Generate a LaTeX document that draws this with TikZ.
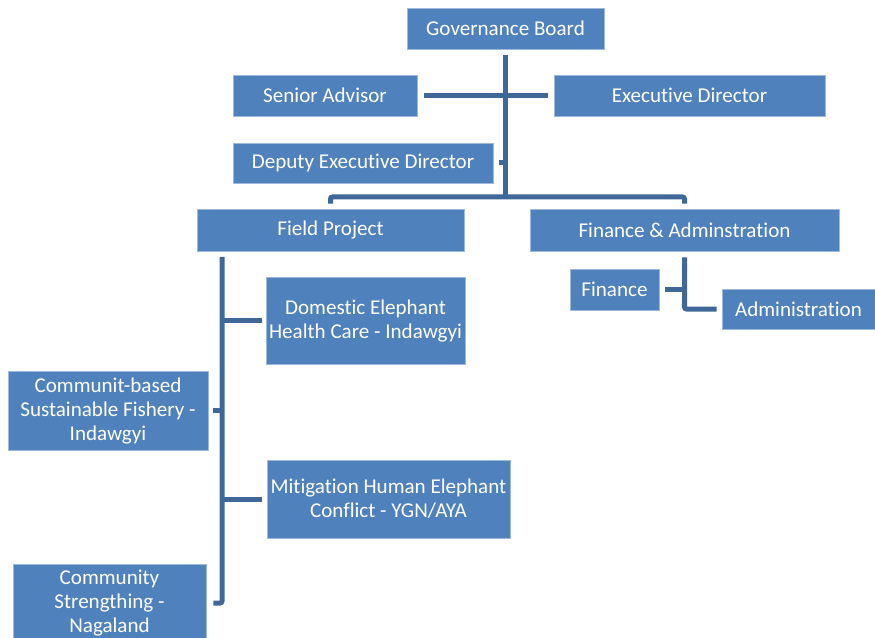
\documentclass[tikz,border=0pt]{standalone}
\usepackage{fontspec}
\setmainfont[Ligatures=NoCommon]{Carlito}
\usetikzlibrary{positioning,calc}
\definecolor{boxblue}{HTML}{4F81BD}
\definecolor{linkblue}{HTML}{3F6797}
\begin{document}
\begin{tikzpicture}[
  x=0.75pt, y=-0.75pt,
  unit/.style={rectangle, inner sep=0pt, align=center, fill=boxblue, draw=boxblue!55!white, line width=0.4pt, text=white, font=\fontsize{15.8}{18}\selectfont},
  link/.style={draw=linkblue, line width=3.75pt, rounded corners=1.5pt}
]
\useasboundingbox (0,0) rectangle (875,638);

\node[unit, minimum width=147.75pt, minimum height=30.75pt] (gov) at (505.5,28.5) {Governance Board};
\node[unit, minimum width=138pt, minimum height=30.75pt] (adv) at (325,95.5) {Senior Advisor};
\node[unit, minimum width=203.25pt, minimum height=30.75pt] (exd) at (689.5,95.5) {Executive Director};
\node[unit, minimum width=195pt, minimum height=30pt] (dep) at (363,163) {Deputy Executive Director};
\node[unit, minimum width=200.25pt, minimum height=31.5pt] (fp) at (330.5,230) {Field Project};
\node[unit, minimum width=231.75pt, minimum height=31.5pt] (fa) at (684.5,230) {Finance \& Adminstration};
\node[unit, minimum width=66.75pt, minimum height=30.75pt] (fin) at (614.5,289.5) {Finance};
\node[unit, minimum width=114.75pt, minimum height=30pt] (adm) at (798.5,309) {Administration};
\node[unit, minimum width=149.25pt, minimum height=65.25pt] (dom) at (365.5,320.5) {Domestic Elephant\\Health Care - Indawgyi};
\node[unit, minimum width=150pt, minimum height=59.25pt] (fish) at (108,410.5) {Communit-based\\Sustainable Fishery -\\Indawgyi};
\node[unit, minimum width=182.25pt, minimum height=58.5pt] (mit) at (388.5,499) {Mitigation Human Elephant\\Conflict - YGN/AYA};
\node[unit, minimum width=144.75pt, minimum height=58.5pt] (cs) at (109.5,603) {Community\\Strengthing -\\Nagaland};

\coordinate (hub) at (506,197);
\coordinate (spine) at (222,257);

% board and directors
\draw[link] ([yshift=-4.5pt]gov.south) -- (gov.south |- hub);
\draw[link] ([xshift=5.25pt]adv.east) -- ([xshift=-4.5pt]exd.west);
\draw[link] ([xshift=4.5pt]dep.east) -- (dep.east -| hub);
\draw[link] ([yshift=3.75pt]fp.north) |- (hub) -| ([yshift=3.75pt]fa.north);

% field projects
\draw[link] (spine) |- ([xshift=5.25pt]cs.east);
\draw[link] ([xshift=-3pt]dom.west) -- (dom.west -| spine);
\draw[link] ([xshift=3.75pt]fish.east) -- (fish.east -| spine);
\draw[link] ([xshift=-3.75pt]mit.west) -- (mit.west -| spine);

% finance and administration
\draw[link] ([yshift=-4.5pt]fa.south) |- ([xshift=-3.75pt]adm.west);
\draw[link] ([xshift=4.5pt]fin.east) -- (fin.east -| fa.south);
\end{tikzpicture}
\end{document}
